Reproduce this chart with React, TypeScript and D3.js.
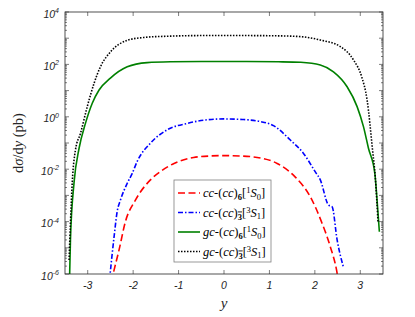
import * as d3 from "d3";
import { useEffect, useRef } from "react";

// rapidity grid (y) and dσ/dy in pb
const ccSingletY = [-2.48, -2.42, -2.31, -2.17, -1.95, -1.62, -1.4, -1.1, -0.67, -0.3, 0, 0.35, 0.73, 1.17, 1.57, 1.9, 2.16, 2.34, 2.49, 2.52];
const ccSingletV = [5e-7, 1.4e-6, 8.3e-6, 1.0e-4, 6.6e-4, 3.9e-3, 8.1e-3, 1.66e-2, 2.8e-2, 3.2e-2, 3.3e-2, 3.2e-2, 2.8e-2, 1.66e-2, 5.0e-3, 8.9e-4, 8.5e-5, 1.1e-5, 1.07e-6, 5e-7];

const ccTripletY = [-2.52, -2.42, -2.35, -2.28, -2.13, -2.02, -1.91, -1.62, -1.25, -0.81, -0.4, 0, 0.4, 0.8, 1.1, 1.46, 1.75, 2.01, 2.12, 2.3, 2.38, 2.49, 2.63];
const ccTripletV = [6e-7, 2.6e-5, 2.5e-4, 6.6e-4, 2.9e-3, 6.9e-3, 2.0e-2, 9.8e-2, 0.32, 0.56, 0.76, 0.83, 0.79, 0.66, 0.45, 0.13, 4.0e-2, 7.9e-3, 3.9e-3, 4.3e-4, 3.7e-4, 2.0e-5, 1.8e-6];

const gcSingletY = [-3.4, -3.38, -3.3, -3.19, -3.05, -2.9, -2.75, -2.5, -2.13, -1.69, -1.18, -0.5, 0, 0.5, 1.2, 1.69, 2.12, 2.41, 2.71, 2.93, 3.07, 3.18, 3.32, 3.38, 3.42];
const gcSingletV = [6.3e-7, 2.0e-5, 3.2e-3, 6.3e-2, 0.56, 3.3, 10.5, 30, 81, 117, 126, 129, 129, 129, 126, 120, 95, 52, 14, 2.45, 0.42, 6.3e-2, 6.9e-3, 3.7e-4, 4.1e-5];

const gcTripletY = [-3.41, -3.38, -3.34, -3.27, -3.16, -3.01, -2.86, -2.72, -2.5, -2.13, -1.76, -1.18, -0.5, 0, 0.5, 1.2, 1.69, 2.12, 2.56, 2.85, 3.03, 3.15, 3.27, 3.33, 3.39];
const gcTripletV = [3.4e-6, 8.9e-5, 3.2e-3, 5.4e-2, 0.23, 2.45, 19, 81, 300, 830, 1070, 1200, 1260, 1260, 1260, 1230, 1150, 850, 480, 148, 34, 4.4, 5.4e-2, 5.0e-3, 1.0e-4];

const xTicks = [-3, -2, -1, 0, 1, 2, 3];
const yLabelExponents = [4, 2, 0, -2, -4, -6];

type Series = {
  key: string;
  ys: number[];
  vs: number[];
  color: string;
  dash: string | null;
  width: number;
  channel: "cc" | "gc";
  sub: string;
  state: [string, string];
};

const series: Series[] = [
  { key: "ccS", ys: ccSingletY, vs: ccSingletV, color: "#ff0000", dash: "7,3.5", width: 1.6, channel: "cc", sub: "6", state: ["1", "0"] },
  { key: "ccT", ys: ccTripletY, vs: ccTripletV, color: "#0000ff", dash: "5,2,1.5,2", width: 1.6, channel: "cc", sub: "3", state: ["3", "1"] },
  { key: "gcS", ys: gcSingletY, vs: gcSingletV, color: "#008000", dash: null, width: 1.6, channel: "gc", sub: "6", state: ["1", "0"] },
  { key: "gcT", ys: gcTripletY, vs: gcTripletV, color: "#000000", dash: "1.5,1.5", width: 1.6, channel: "gc", sub: "3", state: ["3", "1"] },
];

const W = 415;
const H = 317;
const margin = { top: 12, right: 32, bottom: 43, left: 65 };

const drawPlot = (svgElement: SVGSVGElement) => {
  const svg = d3.select(svgElement);
  svg.selectAll("*").remove();

  const width = W - margin.left - margin.right;
  const height = H - margin.top - margin.bottom;
  const axisColor = "#262626";
  const tickFont = "'Liberation Sans', Arial, sans-serif";
  const serif = "'Liberation Serif', 'Times New Roman', serif";

  const x = d3.scaleLinear().domain([-3.5, 3.5]).range([0, width]);
  const y = d3.scaleLog().domain([1e-6, 1e4]).range([height, 0]);

  const root = svg.append("g").attr("transform", `translate(${margin.left},${margin.top})`);

  root.append("rect").attr("width", width).attr("height", height).attr("fill", "white");

  svg
    .append("defs")
    .append("clipPath")
    .attr("id", "plot-clip")
    .append("rect")
    .attr("width", width)
    .attr("height", height);

  const line = d3
    .line<[number, number]>()
    .curve(d3.curveMonotoneX)
    .x((d) => x(d[0]))
    .y((d) => y(d[1]));

  const curves = root.append("g").attr("clip-path", "url(#plot-clip)");
  series.forEach((s) => {
    const pts = s.ys.map((v, i) => [v, s.vs[i]] as [number, number]);
    curves
      .append("path")
      .datum(pts)
      .attr("d", line)
      .attr("fill", "none")
      .attr("stroke", s.color)
      .attr("stroke-width", s.width)
      .attr("stroke-dasharray", s.dash ?? null);
  });

  // ticks: x on bottom and top, y on left and right, pointing inward
  const tickG = root.append("g").attr("stroke", axisColor).attr("stroke-width", 0.6);
  xTicks.forEach((t) => {
    tickG.append("line").attr("x1", x(t)).attr("x2", x(t)).attr("y1", height).attr("y2", height - 4);
    tickG.append("line").attr("x1", x(t)).attr("x2", x(t)).attr("y1", 0).attr("y2", 4);
  });
  for (let e = -6; e <= 4; e++) {
    const yy = y(Math.pow(10, e));
    tickG.append("line").attr("x1", 0).attr("x2", 4).attr("y1", yy).attr("y2", yy);
    tickG.append("line").attr("x1", width).attr("x2", width - 4).attr("y1", yy).attr("y2", yy);
    if (e < 4) {
      for (let m = 2; m <= 9; m++) {
        const ym = y(m * Math.pow(10, e));
        tickG.append("line").attr("x1", 0).attr("x2", 2).attr("y1", ym).attr("y2", ym);
        tickG.append("line").attr("x1", width).attr("x2", width - 2).attr("y1", ym).attr("y2", ym);
      }
    }
  }

  root
    .append("rect")
    .attr("width", width)
    .attr("height", height)
    .attr("fill", "none")
    .attr("stroke", axisColor)
    .attr("stroke-width", 0.8);

  // x tick labels
  root
    .selectAll("text.xt")
    .data(xTicks)
    .join("text")
    .attr("class", "xt")
    .attr("x", (d) => x(d))
    .attr("y", height + 15)
    .attr("text-anchor", "middle")
    .style("font-family", tickFont)
    .style("font-style", "italic")
    .style("font-size", "10.5px")
    .attr("fill", axisColor)
    .text((d) => (d < 0 ? `-${Math.abs(d)}` : `${d}`));

  // y tick labels 10^n
  yLabelExponents.forEach((e) => {
    const t = root
      .append("text")
      .attr("x", -6)
      .attr("y", y(Math.pow(10, e)) + 5.5)
      .attr("text-anchor", "end")
      .style("font-family", tickFont)
      .style("font-style", "italic")
      .style("font-size", "10.5px")
      .attr("fill", axisColor);
    t.append("tspan").text("10");
    t.append("tspan").attr("dy", -4.5).style("font-size", "7px").text(e < 0 ? `-${-e}` : `${e}`);
  });

  // axis titles
  const yTitle = root
    .append("text")
    .attr("transform", `translate(${-42},${height / 2}) rotate(-90)`)
    .attr("text-anchor", "middle")
    .style("font-family", serif)
    .style("font-size", "14.5px")
    .attr("fill", "#262626");
  yTitle.append("tspan").text("d");
  yTitle.append("tspan").style("font-style", "italic").text("σ");
  yTitle.append("tspan").text("/d");
  yTitle.append("tspan").style("font-style", "italic").text("y");
  yTitle.append("tspan").text(" (pb)");

  root
    .append("text")
    .attr("x", x(0))
    .attr("y", height + 34)
    .attr("text-anchor", "middle")
    .style("font-family", serif)
    .style("font-style", "italic")
    .style("font-size", "15px")
    .attr("fill", "#262626")
    .text("y");

  // legend
  const lgX = 174 - margin.left;
  const lgY = 180 - margin.top;
  const lgW = 97;
  const lgH = 82;
  const legend = root.append("g").attr("transform", `translate(${lgX},${lgY})`);
  legend
    .append("rect")
    .attr("width", lgW)
    .attr("height", lgH)
    .attr("fill", "white")
    .attr("stroke", "#7f7f7f")
    .attr("stroke-width", 0.8);

  series.forEach((s, i) => {
    const ry = 13 + i * 19.5;
    legend
      .append("line")
      .attr("x1", 4)
      .attr("x2", 26)
      .attr("y1", ry)
      .attr("y2", ry)
      .attr("stroke", s.color)
      .attr("stroke-width", s.width)
      .attr("stroke-dasharray", s.dash ?? null);

    const t = legend
      .append("text")
      .attr("x", 29)
      .attr("y", ry + 4)
      .style("font-family", serif)
      .style("font-size", "12.5px")
      .attr("fill", "black");
    t.append("tspan").style("font-style", "italic").text(s.channel);
    t.append("tspan").text("-(");
    t.append("tspan").style("font-style", "italic").text("cc");
    t.append("tspan").text(")");
    const sub = t
      .append("tspan")
      .attr("dy", 3)
      .style("font-size", "8.5px")
      .style("font-weight", "bold")
      .text(s.sub);
    if (s.sub === "3") sub.style("text-decoration", "overline");
    t.append("tspan").attr("dy", -3).text("[");
    t.append("tspan").attr("dy", -4).style("font-size", "8.5px").text(s.state[0]);
    t.append("tspan").attr("dy", 4).style("font-style", "italic").text("S");
    t.append("tspan").attr("dy", 2.5).style("font-size", "8.5px").text(s.state[1]);
    t.append("tspan").attr("dy", -2.5).text("]");
  });
};

const App = () => {
  const svgRef = useRef<SVGSVGElement | null>(null);

  useEffect(() => {
    if (svgRef.current) drawPlot(svgRef.current);
  }, []);

  return (
    <div style={{ position: "absolute", left: 0, top: 0, width: W, height: H, background: "white" }}>
      <svg ref={svgRef} width={W} height={H} />
    </div>
  );
};

export default App;
